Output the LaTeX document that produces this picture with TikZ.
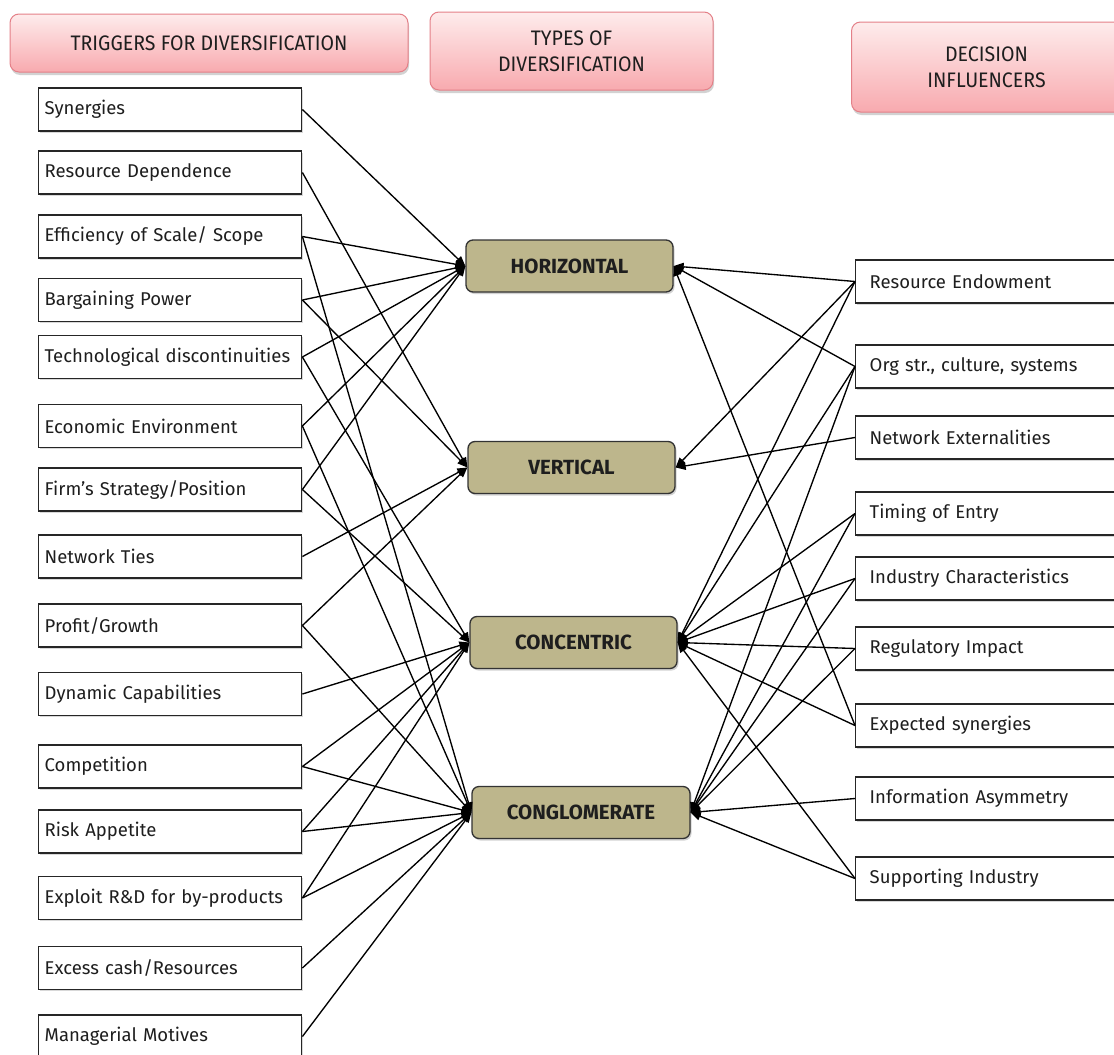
\documentclass[tikz,border=0pt]{standalone}
\usepackage{fontspec}
\setmainfont{Fira Sans}
\usepackage{graphicx}
\usetikzlibrary{arrows.meta,shadows}

\definecolor{tanfill}{RGB}{189,182,140}
\definecolor{pinktop}{RGB}{254,236,236}
\definecolor{pinkbot}{RGB}{248,170,175}
\definecolor{pinkedge}{RGB}{228,128,136}
\definecolor{inkgray}{RGB}{30,30,30}

\tikzset{
  hdr/.style={draw=pinkedge, line width=1pt, rounded corners=9pt,
    top color=pinktop, bottom color=pinkbot, align=center, inner sep=0pt,
    text=inkgray, font=\fontsize{21}{26}\selectfont,
    drop shadow={shadow xshift=1pt, shadow yshift=-3pt, opacity=0.35}},
  trig/.style={draw=black!85, line width=1.4pt, fill=white, anchor=west,
    minimum height=43pt, text width=251pt, inner xsep=6pt, inner ysep=0pt,
    align=left, text=inkgray, font=\fontsize{18.5}{20}\selectfont,
    drop shadow={shadow xshift=1.5pt, shadow yshift=-1.5pt, opacity=0.3}},
  infl/.style={trig, text width=260pt, inner xsep=14pt},
  kind/.style={draw=black!80, line width=1.3pt, fill=tanfill, rounded corners=7pt,
    minimum height=52pt, inner sep=0pt, text=inkgray,
    font=\fontsize{20.5}{22}\selectfont\bfseries,
    drop shadow={shadow xshift=1.5pt, shadow yshift=-2pt, opacity=0.35}},
  conn/.style={draw=black, line width=1.35pt,
    -{Triangle[length=10pt,width=8pt]}}
}

\newcommand{\narrow}[1]{\scalebox{0.93}[1]{#1}}

\begin{document}
\begin{tikzpicture}[x=1pt,y=-1pt]
\useasboundingbox (0,0) rectangle (1114,1055);
\clip (0,0) rectangle (1114,1055);
\fill[white] (0,0) rectangle (1114,1055);

% column headings
\node[hdr, minimum width=398pt, minimum height=58pt] (t1) at (209,43)
  {\narrow{TRIGGERS FOR DIVERSIFICATION}};
\node[hdr, minimum width=283pt, minimum height=78pt] (t2) at (571.5,51)
  {\narrow{TYPES OF}\\\narrow{DIVERSIFICATION}};
\node[hdr, minimum width=290pt, minimum height=90pt, anchor=west] (t3) at (851,67)
  {\hspace*{-20pt}\narrow{DECISION}\\\hspace*{-20pt}\narrow{INFLUENCERS}};

% triggers
\node[trig] (l1)  at (38,109.5) {Synergies};
\node[trig] (l2)  at (38,172.5) {Resource Dependence};
\node[trig] (l3)  at (38,236.5) {Efficiency of Scale/ Scope};
\node[trig] (l4)  at (38,300)   {Bargaining Power};
\node[trig] (l5)  at (38,357)   {Technological discontinuities};
\node[trig] (l6)  at (38,426)   {Economic Environment};
\node[trig] (l7)  at (38,489.5) {Firm’s Strategy/Position};
\node[trig] (l8)  at (38,556.5) {Network Ties};
\node[trig] (l9)  at (38,625.5) {Profit/Growth};
\node[trig] (l10) at (38,694)   {Dynamic Capabilities};
\node[trig] (l11) at (38,766.5) {Competition};
\node[trig] (l12) at (38,831.5) {Risk Appetite};
\node[trig] (l13) at (38,898)   {Exploit R\&D for by-products};
\node[trig] (l14) at (38,968)   {Excess cash/Resources};
\node[trig] (l15) at (38,1036.5){Managerial Motives};

% types of diversification
\node[kind, minimum width=207pt] (h) at (569.5,266)   {HORIZONTAL};
\node[kind, minimum width=207pt] (v) at (571.5,467.5) {VERTICAL};
\node[kind, minimum width=207pt] (c) at (573.5,642.5) {CONCENTRIC};
\node[kind, minimum width=218pt] (g) at (581,812.5)   {CONGLOMERATE};

% decision influencers
\node[infl] (r1) at (855,281.5) {Resource Endowment};
\node[infl] (r2) at (855,366.5) {Org str., culture, systems};
\node[infl] (r3) at (855,437.5) {Network Externalities};
\node[infl] (r4) at (855,513.5) {Timing of Entry};
\node[infl] (r5) at (855,578.5) {Industry Characteristics};
\node[infl] (r6) at (855,648.5) {Regulatory Impact};
\node[infl] (r7) at (855,725.5) {Expected synergies};
\node[infl] (r8) at (855,798.5) {Information Asymmetry};
\node[infl] (r9) at (855,878.5) {Supporting Industry};

% triggers -> types
\foreach \s/\t in {l1/h, l2/v, l3/h, l3/g, l4/h, l4/v, l5/h, l5/c,
                   l6/h, l6/g, l7/h, l7/c, l8/v, l9/v, l9/g, l10/c,
                   l11/c, l11/g, l12/c, l12/g, l13/c, l13/g, l14/g, l15/g}
  \draw[conn] (\s.east) -- (\t.west);

% influencers -> types
\foreach \s/\t in {r1/h, r1/v, r1/c, r2/h, r2/c, r2/g, r3/v,
                   r4/c, r4/g, r5/c, r5/g, r6/c, r6/g, r7/h, r7/c,
                   r8/g, r9/c, r9/g}
  \draw[conn] (\s.west) -- (\t.east);
\end{tikzpicture}
\end{document}
